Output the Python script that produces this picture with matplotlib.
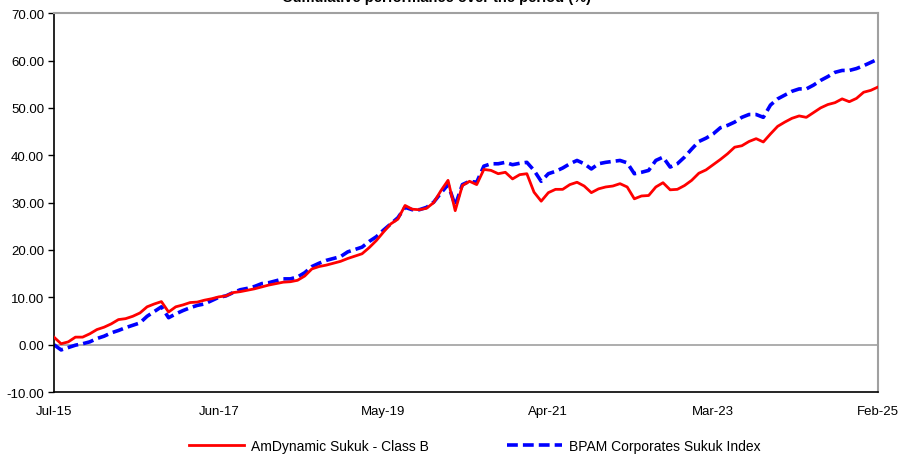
import numpy as np
import matplotlib
matplotlib.use("Agg")
import matplotlib.pyplot as plt

plt.rcParams["font.family"] = ["Liberation Sans", "DejaVu Sans"]

# monthly cumulative performance (%), Jul-15 .. Feb-25
fund = [
    1.6, 0.2, 0.6, 1.6, 1.6, 2.3, 3.2, 3.7, 4.4, 5.3,
    5.5, 6.0, 6.7, 8.0, 8.6, 9.1, 6.9, 8.0, 8.4, 8.9,
    9.0, 9.4, 9.7, 10.1, 10.3, 11.0, 11.2, 11.5, 11.8, 12.2,
    12.6, 12.9, 13.2, 13.3, 13.6, 14.5, 16.0, 16.5, 16.8, 17.2,
    17.6, 18.2, 18.7, 19.2, 20.5, 22.0, 23.8, 25.5, 26.5, 29.4,
    28.6, 28.5, 28.8, 30.0, 32.5, 34.7, 28.3, 33.6, 34.5, 33.8,
    37.0, 36.8, 36.1, 36.4, 35.0, 35.9, 36.1, 32.2, 30.3, 32.1,
    32.8, 32.8, 33.8, 34.3, 33.5, 32.1, 32.9, 33.3, 33.5, 34.0,
    33.3, 30.8, 31.4, 31.5, 33.3, 34.2, 32.7, 32.8, 33.6, 34.7,
    36.2, 36.9, 38.0, 39.1, 40.3, 41.7, 42.0, 42.9, 43.5, 42.8,
    44.5, 46.1, 47.0, 47.8, 48.3, 48.0, 49.0, 50.0, 50.7, 51.1,
    51.9, 51.3, 52.0, 53.3, 53.7, 54.4,
]
index = [
    0.0, -1.1, -0.6, -0.1, 0.2, 0.6, 1.3, 1.8, 2.5, 3.0,
    3.6, 4.1, 4.6, 6.0, 7.0, 8.0, 5.7, 6.5, 7.2, 7.8,
    8.3, 8.6, 9.3, 10.0, 10.3, 11.0, 11.6, 11.9, 12.3, 12.9,
    13.1, 13.5, 13.9, 13.9, 14.3, 15.2, 16.5, 17.2, 17.8, 18.2,
    18.6, 19.6, 20.1, 20.6, 21.8, 22.8, 24.2, 25.5, 26.8, 29.0,
    28.5, 28.5, 29.0, 30.1, 32.0, 33.8, 29.4, 33.8, 34.5, 34.3,
    37.7, 38.2, 38.2, 38.5, 38.0, 38.3, 38.5, 36.8, 34.5, 36.1,
    36.6, 37.3, 38.2, 38.9, 38.2, 37.1, 38.2, 38.5, 38.7, 38.9,
    38.4, 36.1, 36.4, 36.8, 38.9, 39.6, 37.5, 38.2, 39.6, 41.3,
    42.9, 43.6, 44.5, 45.8, 46.3, 47.0, 48.0, 48.6, 48.6, 48.0,
    50.6, 51.9, 52.7, 53.5, 54.0, 54.0, 54.8, 55.8, 56.6, 57.5,
    57.9, 57.9, 58.3, 58.9, 59.6, 60.3,
]
tick_pos = [0, 23, 46, 69, 92, 115]
tick_labels = ["Jul-15", "Jun-17", "May-19", "Apr-21", "Mar-23", "Feb-25"]

x = np.arange(len(fund))

fig = plt.figure(figsize=(8.99, 4.56), dpi=100)
ax = fig.add_axes([0.060, 0.138, 0.9166, 0.831])

ax.axhline(0, color="#a0a0a0", lw=1.2, zorder=1)
ax.plot(x, fund, color="#ff0000", lw=2, label="AmDynamic Sukuk - Class B", zorder=3)
ax.plot(x, index, color="#0000ff", lw=2.6, dashes=(3, 1.4),
        label="BPAM Corporates Sukuk Index", zorder=2)

ax.set_xlim(0, len(fund) - 1)
ax.set_ylim(-10, 70)
ax.set_yticks(np.arange(-10, 71, 10))
ax.set_yticklabels(["{:.2f}".format(v) for v in np.arange(-10, 71, 10)])
ax.set_xticks(tick_pos)
ax.set_xticklabels(tick_labels)
ax.tick_params(axis="y", labelsize=9.5, length=4, width=1, pad=3)
ax.tick_params(axis="x", labelsize=9.5, length=0, pad=9)

for side in ["left", "bottom"]:
    ax.spines[side].set_color("black")
    ax.spines[side].set_linewidth(1.2)
for side in ["top", "right"]:
    ax.spines[side].set_color("#a0a0a0")
    ax.spines[side].set_linewidth(1.5)

# title sits mostly above the top edge, as in the source image
fig.text(0.485, 0.9956, "Cumulative performance over the period (%)",
         ha="center", va="baseline", fontsize=10.5, fontweight="bold")

fig.legend(loc="center", bbox_to_anchor=(0.528, 0.02), ncol=2, frameon=False,
           fontsize=10, handlelength=4.0, columnspacing=5.6, handletextpad=0.5)

fig.savefig("out.png", dpi=100)
